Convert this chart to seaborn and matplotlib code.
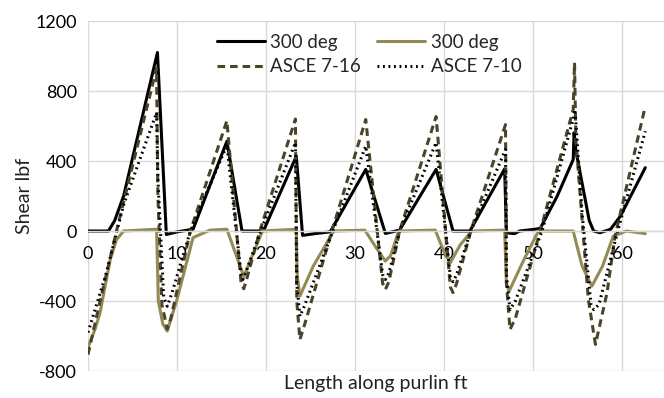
import numpy as np
import pandas as pd
import matplotlib
matplotlib.use("Agg")
import matplotlib.pyplot as plt
import seaborn as sns

# 300 deg (black)
x_300a = [0, 2.3, 3.0, 4.0, 7.8, 8.8, 10.0, 11.8, 15.6, 17.3, 19.7, 23.4, 24.1, 25.5, 27.2,
          31.2, 33.4, 35.0, 39.1, 41.0, 42.9, 46.8, 47.0, 47.9, 48.5, 50.2, 50.8, 52.7,
          54.5, 54.6, 54.8, 56.3, 56.8, 57.5, 58.7, 59.8, 62.6]
y_300a = [0, 0, 60, 200, 1020, -20, -5, 10, 513, 0, 0, 427, -25, -15, -5,
          352, -14, 5, 352, 0, 0, 355, -10, -15, 0, 10, 15, 199,
          408, 562, 460, 60, 0, -10, 10, 85, 362]

# 300 deg (olive)
x_300b = [0, 0.8, 1.35, 2.5, 3.2, 4.0, 7.7, 7.9, 8.4, 8.9, 10.0, 11.8, 13.7, 15.6, 17.5, 19.6,
          23.4, 23.5, 23.8, 25.3, 27.6, 31.1, 32.3, 33.4, 34.0, 34.9, 39.0, 40.0, 40.7, 41.8,
          43.1, 46.8, 47.0, 47.3, 49.0, 50.6, 54.5, 55.5, 56.6, 57.8, 59.0, 60.5, 62.6]
y_300b = [-666, -560, -467, -163, -50, 0, 10, -400, -530, -572, -391, -38, 5, 10, -260, 0,
          10, -250, -372, -201, 0, 5, -90, -172, -140, 0, 5, -120, -181, -80,
          0, 5, -300, -344, -160, 0, 0, -200, -315, -200, -30, 0, -15]

# ASCE 7-16
x_716 = [0, 1.0, 2.5, 3.2, 7.7, 7.85, 8.3, 8.9, 9.3, 11.5, 15.6, 17.2, 17.5, 17.8, 19.3,
         23.3, 23.45, 23.8, 24.3, 27.4, 31.2, 33.1, 33.4, 33.8, 35.0, 39.1, 40.7, 41.0, 41.4,
         43.0, 46.9, 47.0, 47.4, 48.0, 50.8, 54.5, 54.65, 54.8, 56.2, 57.0, 58.3, 59.2, 62.6]
y_716 = [-706, -480, -152, 0, 930, 200, -420, -560, -500, 0, 630, -300, -330, -280, 0,
         640, -400, -620, -540, 0, 637, -300, -334, -290, 0, 654, -320, -352, -300,
         0, 608, -300, -563, -500, 0, 694, 962, 520, -391, -648, -353, -30, 713]

# ASCE 7-10
x_710 = [0, 2.0, 4.0, 7.7, 7.85, 8.5, 8.9, 9.4, 11.5, 15.6, 17.2, 17.4, 17.7, 19.4,
         23.3, 23.45, 23.8, 24.3, 27.5, 31.2, 33.1, 33.4, 33.8, 35.0, 39.1, 40.7, 41.0, 41.4,
         43.0, 46.9, 47.0, 47.4, 48.0, 51.0, 54.5, 54.7, 55.5, 56.5, 56.8, 57.4, 59.5, 62.6]
y_710 = [-580, -250, 150, 676, 300, -380, -430, -360, 0, 490, -250, -277, -240, 0,
         505, -300, -487, -430, 0, 485, -250, -277, -240, 0, 505, -260, -290, -250,
         0, 466, -250, -449, -400, 0, 640, 694, 100, -420, -449, -420, 0, 570]

sns.set_theme(style="whitegrid")
plt.rcParams['font.family'] = ['Lato', 'DejaVu Sans']
plt.rcParams['axes.unicode_minus'] = False

fig = plt.figure(figsize=(6.64, 3.98), dpi=100)
ax = fig.add_axes([88 / 664, 1 - 371 / 398, 1 - 88 / 664, 350 / 398])

h1 = sns.lineplot(x=x_300a, y=y_300a, sort=False, color="black", lw=2.2, ax=ax).lines[-1]
h2 = sns.lineplot(x=x_300b, y=y_300b, sort=False, color="#948A54", lw=2.2, ax=ax).lines[-1]
h3 = sns.lineplot(x=x_716, y=y_716, sort=False, color="#4A452A", lw=2.2, ax=ax).lines[-1]
h3.set_linestyle((0, (2.5, 1.6)))
h4 = sns.lineplot(x=x_710, y=y_710, sort=False, color="black", lw=2.2, ax=ax).lines[-1]
h4.set_linestyle((0, (0.6, 1.2)))

ax.set_xlim(0, 64.7)
ax.set_ylim(-800, 1200)
ax.set_xticks([0, 10, 20, 30, 40, 50, 60])
ax.set_yticks([-800, -400, 0, 400, 800, 1200])
ax.grid(True, color="#d9d9d9", lw=1)
for s in ["left", "right", "top"]:
    ax.spines[s].set_visible(False)
ax.spines["bottom"].set_position(("data", 0))
ax.spines["bottom"].set_color("#d9d9d9")
ax.spines["bottom"].set_linewidth(1)
ax.tick_params(axis="x", length=0, pad=11, labelsize=13, colors="black")
ax.tick_params(axis="y", length=0, pad=8, labelsize=13, colors="black")

ax.set_xlabel("Length along purlin ft", fontsize=14, color="#222222")
ax.xaxis.set_label_coords(0.5, -0.012)
ax.set_ylabel("Shear lbf", fontsize=14, color="#222222")
ax.yaxis.set_label_coords(-0.095, 0.5)

leg = fig.legend([h1, h3, h2, h4], ["300 deg", "ASCE 7-16", "300 deg", "ASCE 7-10"],
                 loc="upper left", bbox_to_anchor=(217 / 664, 1 - 34 / 398), ncol=2,
                 frameon=False, fontsize=13.5, handlelength=2.55, handletextpad=0.3,
                 columnspacing=0.85, labelspacing=0.4, borderpad=0, borderaxespad=0)

fig.savefig("out.png", dpi=100)
